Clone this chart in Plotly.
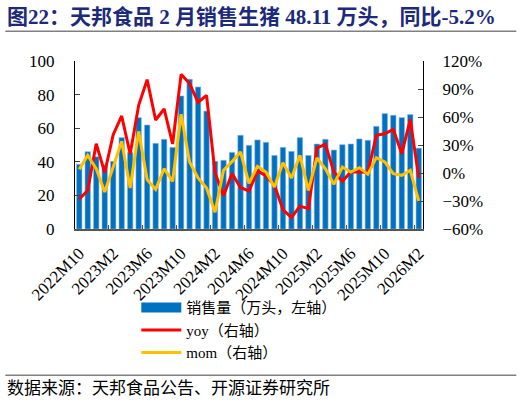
import plotly.graph_objects as go

# 月份：2022M10 ~ 2026M2
months = []
for y in range(2022, 2027):
    for m in range(1, 13):
        if (y == 2022 and m < 10) or (y == 2026 and m > 2):
            continue
        months.append(f"{y}M{m}")

# 销售量（万头）
sales = [38.5, 46.0, 43.0, 38.0, 40.3, 54.4, 45.6, 66.3, 61.9, 51.0,
         53.4, 48.6, 79.2, 89.1, 84.5, 70.2, 40.3, 40.9, 45.6, 55.8,
         49.8, 53.0, 51.6, 43.8, 48.6, 46.2, 54.4, 43.8, 50.6, 53.4,
         47.0, 50.2, 50.6, 53.6, 52.8, 61.1, 68.7, 67.7, 66.3, 68.1,
         48.11]

# 同比（%）
yoy = [-28.2, -18.6, 31.4, 0.4, 41.1, 61.1, 20.4, 72.5, 100.0, 56.8,
       68.6, 31.1, 105.7, 95.8, 75.8, 83.2, 0.0, -24.3, -0.7, -15.5,
       -19.3, 2.5, -3.2, -13.2, -39.3, -47.8, -35.5, -38.2, 26.8, 30.7,
       1.1, -8.9, 1.1, 1.4, 0.4, 40.4, 42.1, 46.8, 20.7, 57.1,
       -5.2]

# 环比（%）
mom = [3.9, 18.9, 4.6, -20.4, 6.4, 33.9, -16.1, 44.6, -7.1, -17.5,
       4.6, -8.9, 62.9, 11.8, -5.2, -16.0, -42.0, 2.9, 12.2, 22.5,
       -11.0, 7.1, 1.1, -15.0, 11.1, -5.3, 19.0, -18.6, 16.1, 4.6,
       -12.1, 6.4, 1.1, 5.7, -1.4, 16.4, 11.8, -0.7, -2.5, 2.9,
       -30.0]

tick_labels = months[::4]

# 绘图区像素位置（522x405）
L, R, T, B = 74.7, 422.7, 60.7, 228.7
W, H = R - L, B - T


def px(x):
    return (x - L) / W


def py(y):
    return (B - y) / H


serif = "Liberation Serif, Noto Sans CJK SC"

fig = go.Figure()

fig.add_trace(go.Bar(
    x=months, y=sales, name="销售量（万头，左轴）",
    marker=dict(color="#0070C0", line=dict(color="#8DB8E0", width=0.6)),
    showlegend=False))

# 图例用的粗线条代替柱形图例
fig.add_trace(go.Scatter(
    x=[None], y=[None], mode="lines", name="销售量（万头，左轴）",
    line=dict(color="#0070C0", width=10)))

fig.add_trace(go.Scatter(
    x=months, y=yoy, name="yoy（右轴）", mode="lines", yaxis="y2",
    line=dict(color="#FF0000", width=3)))

fig.add_trace(go.Scatter(
    x=months, y=mom, name="mom（右轴）", mode="lines", yaxis="y2",
    line=dict(color="#FFC000", width=3)))

fig.update_layout(
    width=522, height=405,
    margin=dict(l=L, r=522 - R, t=T, b=405 - B),
    paper_bgcolor="white", plot_bgcolor="white",
    font=dict(family=serif, size=16, color="black"),
    bargap=0.36,
    xaxis=dict(
        type="category", categoryorder="array", categoryarray=months,
        tickvals=tick_labels, ticktext=tick_labels, tickangle=-45,
        tickson="boundaries", ticks="inside", ticklen=4, tickcolor="#555",
        ticklabelstandoff=6, tickfont=dict(size=17),
        showline=True, linecolor="#555", linewidth=1.5,
        showgrid=False, automargin=False,
        range=[-0.5, len(months) - 0.5]),
    yaxis=dict(
        range=[0, 100], dtick=20, ticks="inside", ticklen=5,
        ticklabelstandoff=16, tickfont=dict(size=17),
        showline=True, linecolor="black", linewidth=1,
        showgrid=False, zeroline=False, automargin=False),
    yaxis2=dict(
        overlaying="y", side="right", range=[-60, 120], dtick=30,
        ticksuffix="%", ticks="inside", ticklen=5,
        ticklabelstandoff=15, tickfont=dict(size=17),
        showline=True, linecolor="black", linewidth=1,
        showgrid=False, zeroline=False, automargin=False),
    legend=dict(
        x=px(136), y=py(291), xanchor="left", yanchor="top",
        orientation="v", bgcolor="rgba(0,0,0,0)",
        font=dict(family=serif, size=15), itemwidth=40,
        tracegroupgap=0),
    showlegend=True,
)

fig.add_annotation(
    text="<b>图22：天邦食品 2 月销售生猪 48.11 万头，同比-5.2%</b>",
    xref="paper", yref="paper", x=px(5), y=py(17),
    xanchor="left", yanchor="middle", showarrow=False,
    font=dict(family=serif, size=21, color="#1B2A7A"))

fig.add_annotation(
    text="数据来源：天邦食品公告、开源证券研究所",
    xref="paper", yref="paper", x=px(5), y=py(388),
    xanchor="left", yanchor="middle", showarrow=False,
    font=dict(family=serif, size=17, color="black"))

fig.add_shape(type="line", xref="paper", yref="paper",
              x0=px(5), x1=px(516), y0=py(31), y1=py(31),
              line=dict(color="#808080", width=1.5))
fig.add_shape(type="line", xref="paper", yref="paper",
              x0=px(5), x1=px(516), y0=py(375), y1=py(375),
              line=dict(color="#808080", width=1.5))

# 去掉页面默认边距，隐藏工具栏
fig.write_html("out.html", config={"displayModeBar": False},
               post_script="document.body.style.margin='0';")
